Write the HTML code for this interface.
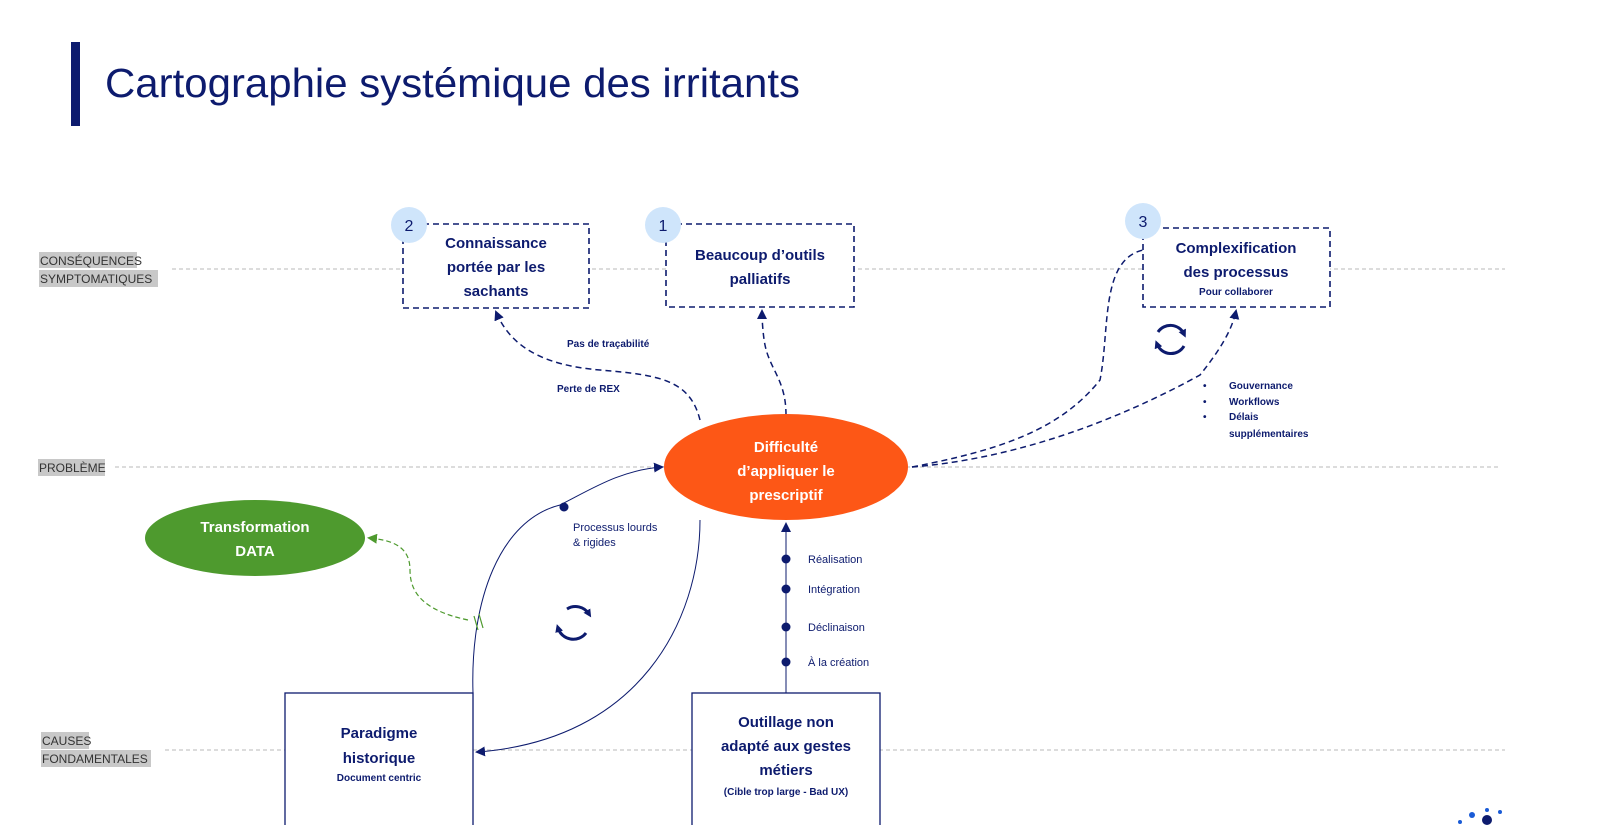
<!DOCTYPE html>
<html><head><meta charset="utf-8"><style>
html,body{margin:0;padding:0;background:#fff;width:1600px;height:825px;overflow:hidden}
svg{display:block}
text{font-family:"Liberation Sans",sans-serif}
</style></head><body>
<svg width="1600" height="825" viewBox="0 0 1600 825" xmlns="http://www.w3.org/2000/svg">
<defs>
<marker id="a" markerWidth="10" markerHeight="10" refX="8" refY="5" orient="auto" markerUnits="userSpaceOnUse"><path d="M0,0 L10,5 L0,10 z" fill="#0d1b6e"/></marker>
<marker id="g" markerWidth="10" markerHeight="10" refX="8" refY="5" orient="auto" markerUnits="userSpaceOnUse"><path d="M0,0 L10,5 L0,10 z" fill="#4e9a2e"/></marker>
<marker id="c" markerWidth="8" markerHeight="8" refX="4" refY="4" orient="auto" markerUnits="userSpaceOnUse"><path d="M0,0 L8,4 L0,8 z" fill="#0d1b6e"/></marker>
</defs>
<rect x="71" y="42" width="9" height="84" fill="#0d1b6e"/>
<text x="105" y="97" font-size="41" fill="#0d1b6e" textLength="695" lengthAdjust="spacingAndGlyphs">Cartographie systémique des irritants</text>
<g stroke="#c8c8c8" stroke-width="1.3" stroke-dasharray="4,3">
<line x1="172" y1="269" x2="1505" y2="269"/>
<line x1="115" y1="467" x2="1500" y2="467"/>
<line x1="165" y1="750" x2="1505" y2="750"/>
</g>
<g font-size="12" fill="#333">
<rect x="39" y="252" width="98" height="16" fill="#c8c8c8"/><rect x="39" y="270" width="119" height="17" fill="#c8c8c8"/>
<text x="40" y="265">CONSÉQUENCES</text><text x="40" y="283">SYMPTOMATIQUES</text>
<rect x="38" y="459" width="67" height="17" fill="#c8c8c8"/><text x="39" y="472">PROBLÈME</text>
<rect x="41" y="732" width="48" height="17" fill="#c8c8c8"/><rect x="41" y="750" width="110" height="17" fill="#c8c8c8"/>
<text x="42" y="745">CAUSES</text><text x="42" y="763">FONDAMENTALES</text>
</g>
<g fill="#fff" stroke="#0d1b6e" stroke-width="1.6" stroke-dasharray="6,4">
<rect x="403" y="224" width="186" height="84"/>
<rect x="666" y="224" width="188" height="83"/>
<rect x="1143" y="228" width="187" height="79"/>
</g>
<g fill="#cfe5fb"><circle cx="409" cy="225" r="18"/><circle cx="663" cy="225" r="18"/><circle cx="1143" cy="221" r="18"/></g>
<g font-size="16" fill="#0d1b6e" text-anchor="middle"><text x="409" y="231">2</text><text x="663" y="231">1</text><text x="1143" y="227">3</text></g>
<g font-size="15" font-weight="bold" fill="#0d1b6e" text-anchor="middle">
<text x="496" y="248">Connaissance</text><text x="496" y="272">portée par les</text><text x="496" y="296">sachants</text>
<text x="760" y="260">Beaucoup d’outils</text><text x="760" y="284">palliatifs</text>
<text x="1236" y="253">Complexification</text><text x="1236" y="277">des processus</text>
<text x="1236" y="295" font-size="10">Pour collaborer</text>
</g>
<g fill="none" stroke="#0d1b6e" stroke-width="1.5" stroke-dasharray="6,4">
<path d="M700,420 C690,380 660,375 600,370 C540,365 510,345 496,312" marker-end="url(#a)"/>
<path d="M786,415 C786,380 770,370 765,345 C763,335 762,320 762,311" marker-end="url(#a)"/>
<path d="M912,467 C1000,450 1060,430 1100,380 C1110,330 1100,260 1143,250"/>
<path d="M912,467 C1000,460 1100,430 1200,375 C1220,350 1232,330 1236,311" marker-end="url(#a)"/>
</g>
<g font-size="10" font-weight="bold" fill="#0d1b6e">
<text x="567" y="347">Pas de traçabilité</text><text x="557" y="392">Perte de REX</text>
<text x="1203" y="389">•</text><text x="1229" y="389">Gouvernance</text>
<text x="1203" y="405">•</text><text x="1229" y="405">Workflows</text>
<text x="1203" y="420">•</text><text x="1229" y="420">Délais</text>
<text x="1229" y="437">supplémentaires</text>
</g>
<ellipse cx="786" cy="467" rx="122" ry="53" fill="#fd5716"/>
<g font-size="15" font-weight="bold" fill="#fff" text-anchor="middle">
<text x="786" y="452">Difficulté</text><text x="786" y="476">d’appliquer le</text><text x="786" y="500">prescriptif</text>
</g>
<ellipse cx="255" cy="538" rx="110" ry="38" fill="#4e9a2e"/>
<g font-size="15" font-weight="bold" fill="#fff" text-anchor="middle"><text x="255" y="532">Transformation</text><text x="255" y="556">DATA</text></g>
<g fill="none" stroke="#0d1b6e" stroke-width="1">
<path d="M473,693 C470,600 500,520 560,505 C590,490 620,470 662,467" marker-end="url(#a)"/>
<path d="M700,520 C700,620 640,740 477,752" marker-end="url(#a)"/>
<path d="M786,693 L786,524" marker-end="url(#a)"/>
</g>
<path d="M468,620 C420,610 410,590 410,570 C410,545 390,540 369,538" fill="none" stroke="#4e9a2e" stroke-width="1.2" stroke-dasharray="5,3" marker-end="url(#g)"/>
<g stroke="#4e9a2e" stroke-width="1.2"><line x1="474" y1="616" x2="478" y2="630"/><line x1="479" y1="614" x2="483" y2="628"/></g>
<g fill="#0d1b6e"><circle cx="564" cy="507" r="4.5"/><circle cx="786" cy="559" r="4.5"/><circle cx="786" cy="589" r="4.5"/><circle cx="786" cy="627" r="4.5"/><circle cx="786" cy="662" r="4.5"/></g>
<g font-size="11" fill="#0d1b6e">
<text x="573" y="531">Processus lourds</text><text x="573" y="546">&amp; rigides</text>
<text x="808" y="563">Réalisation</text><text x="808" y="593">Intégration</text><text x="808" y="631">Déclinaison</text><text x="808" y="666">À la création</text>
</g>
<g fill="none" stroke="#0d1b6e" stroke-width="3">
<path d="M1158,332 A15,15 0 0 1 1184,334" marker-end="url(#c)"/><path d="M1184,346 A15,15 0 0 1 1157,344" marker-end="url(#c)"/>
<path d="M567,609 A16,16 0 0 1 589,614" marker-end="url(#c)"/><path d="M586,633 A16,16 0 0 1 558,628" marker-end="url(#c)"/>
</g>
<g fill="#fff" stroke="#0d1b6e" stroke-width="1.3">
<rect x="285" y="693" width="188" height="140"/>
<rect x="692" y="693" width="188" height="140"/>
</g>
<g font-size="15" font-weight="bold" fill="#0d1b6e" text-anchor="middle">
<text x="379" y="738">Paradigme</text><text x="379" y="763">historique</text>
<text x="379" y="781" font-size="10">Document centric</text>
<text x="786" y="727">Outillage non</text><text x="786" y="751">adapté aux gestes</text><text x="786" y="775">métiers</text>
<text x="786" y="795" font-size="10">(Cible trop large - Bad UX)</text>
</g>
<g fill="#1a5bd6"><circle cx="1472" cy="815" r="3"/><circle cx="1500" cy="812" r="2"/><circle cx="1460" cy="822" r="2"/><circle cx="1487" cy="810" r="2"/></g>
<circle cx="1487" cy="820" r="5" fill="#0d1b6e"/>
</svg>
</body></html>
